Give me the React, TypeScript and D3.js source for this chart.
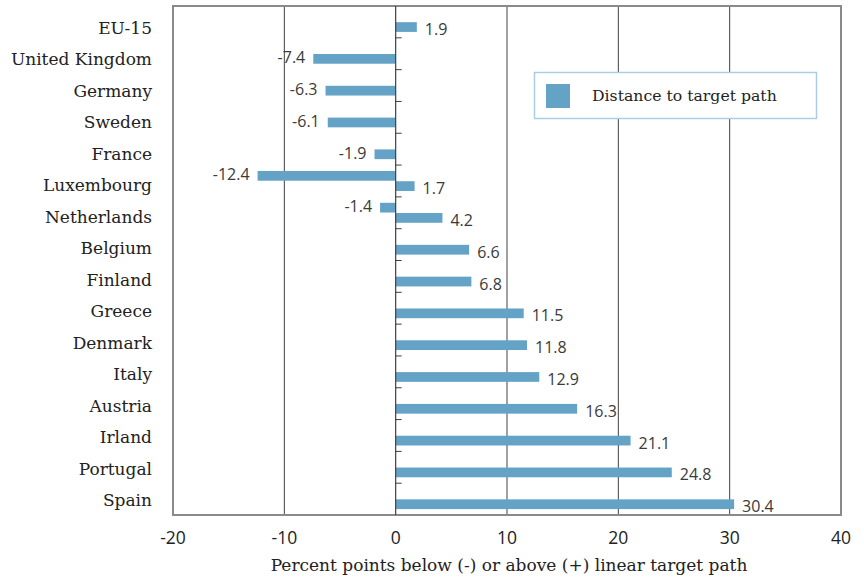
import React from "react";
import * as d3 from "d3";

const categories = [
  "EU-15", "United Kingdom", "Germany", "Sweden", "France", "Luxembourg",
  "Netherlands", "Belgium", "Finland", "Greece", "Denmark", "Italy",
  "Austria", "Irland", "Portugal", "Spain",
];
// main series (lower slot in each group)
const distance = [1.9, -7.4, -6.3, -6.1, -1.9, 1.7, 4.2, 6.6, 6.8, 11.5, 11.8, 12.9, 16.3, 21.1, 24.8, 30.4];
// secondary values (upper slot), only present for two countries
const secondary: (number | null)[] = [null, null, null, null, null, -12.4, -1.4, null, null, null, null, null, null, null, null, null];
const xTicks = [-20, -10, 0, 10, 20, 30, 40];
const legendLabel = "Distance to target path";
const xTitle = "Percent points below (-) or above (+) linear target path";

const W = 864, H = 580;
const left = 173, right = 841, top = 6, bottom = 515;
const barColor = "#64a2c6";
const serif = "'DejaVu Serif', serif";
const sans = "'Open Sans', sans-serif";

export default function App() {
  const x = d3.scaleLinear().domain([-20, 40]).range([left, right]);
  const y0 = d3.scaleBand<string>().domain(categories).range([top, bottom]).padding(0);
  const bw = y0.bandwidth();
  const y1 = d3.scaleBand<string>().domain(["a", "b"]).range([bw / 2 - 10, bw / 2 + 10]).paddingInner(0.05);
  const bh = y1.bandwidth();
  const yLab = d3.scalePoint<string>().domain(categories).range([28, 500]);

  const bars: { cat: string; v: number; slot: string }[] = [];
  categories.forEach((c, i) => {
    if (secondary[i] != null) bars.push({ cat: c, v: secondary[i] as number, slot: "a" });
    bars.push({ cat: c, v: distance[i], slot: "b" });
  });

  const boundaries = categories.slice(1).map((c) => y0(c)!);

  return (
    <svg width={W} height={H} style={{ display: "block", background: "#fff", position: "absolute", left: 0, top: 0 }}>
      {/* grid lines */}
      {xTicks.filter((t) => t !== -20 && t !== 40 && t !== 0).map((t) => (
        <line key={t} x1={x(t)} x2={x(t)} y1={top} y2={bottom} stroke="#404040" strokeWidth={1} />
      ))}
      {/* frame */}
      <rect x={left} y={top} width={right - left} height={bottom - top} fill="none" stroke="#8a8a8a" strokeWidth={2} />
      {/* legend */}
      <rect x={534.5} y={72.5} width={282} height={46} fill="#fff" stroke="#a9cde3" strokeWidth={1.5} />
      <rect x={546} y={84} width={24} height={24} fill={barColor} />
      <text x={592} y={95} dominantBaseline="central" fontFamily={serif} fontSize={15.7} fill="#222">{legendLabel}</text>
      {/* bars */}
      {bars.map((b, i) => {
        const yy = y0(b.cat)! + y1(b.slot)!;
        const x0 = x(Math.min(0, b.v));
        const x1 = x(Math.max(0, b.v));
        const pos = b.v >= 0;
        return (
          <g key={i}>
            <rect x={x0} y={yy} width={x1 - x0} height={bh} fill={barColor} />
            <text
              x={pos ? x1 + 8 : x0 - 8}
              y={yy + bh / 2 + (pos ? 2 : -1.5)}
              textAnchor={pos ? "start" : "end"}
              dominantBaseline="central"
              fontFamily={sans}
              fontSize={16}
              fill="#3a3a3a"
            >
              {b.v.toFixed(1)}
            </text>
          </g>
        );
      })}
      {/* zero axis */}
      <line x1={x(0)} x2={x(0)} y1={top} y2={bottom} stroke="#404040" strokeWidth={1.2} />
      {boundaries.map((b, i) => (
        <line key={i} x1={x(0)} x2={x(0) + 6} y1={b} y2={b} stroke="#404040" strokeWidth={1} />
      ))}
      {/* category labels */}
      {categories.map((c) => (
        <text key={c} x={152} y={yLab(c)!} textAnchor="end" dominantBaseline="central" fontFamily={serif} fontSize={17} fill="#222">
          {c}
        </text>
      ))}
      {/* x tick labels */}
      {xTicks.map((t) => (
        <text key={t} x={x(t)} y={537} textAnchor="middle" dominantBaseline="central" fontFamily={sans} fontSize={17.5} fill="#222">
          {t}
        </text>
      ))}
      <text x={(left + right) / 2 + 2} y={565} textAnchor="middle" dominantBaseline="central" fontFamily={serif} fontSize={17} fill="#222">
        {xTitle}
      </text>
    </svg>
  );
}
